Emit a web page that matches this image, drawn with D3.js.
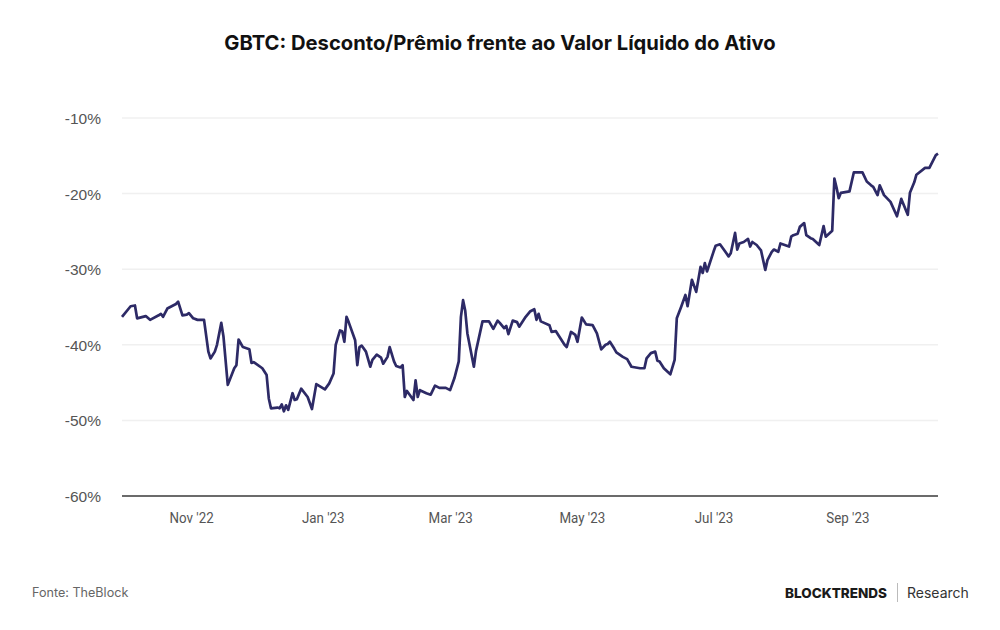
<!DOCTYPE html>
<html>
<head>
<meta charset="utf-8">
<script src="https://cdn.jsdelivr.net/npm/d3@7"></script>
<style>
  body { margin: 0; background: #fff; }
  svg { display: block; }
</style>
</head>
<body>
<svg id="chart" width="1000" height="630"></svg>
<script>
(() => {

    // data (GBTC discount/premium to NAV, %)
    const dates = [
        "2022-09-30","2022-10-04","2022-10-06","2022-10-07","2022-10-11","2022-10-13","2022-10-17","2022-10-18",
        "2022-10-19","2022-10-21","2022-10-23","2022-10-25","2022-10-26","2022-10-28","2022-10-30","2022-10-31",
        "2022-11-02","2022-11-04","2022-11-07","2022-11-09","2022-11-10","2022-11-12","2022-11-13","2022-11-15",
        "2022-11-16","2022-11-18","2022-11-21","2022-11-22","2022-11-23","2022-11-25","2022-11-28","2022-11-29",
        "2022-11-30","2022-12-01","2022-12-04","2022-12-06","2022-12-07","2022-12-08","2022-12-11","2022-12-12",
        "2022-12-13","2022-12-14","2022-12-15","2022-12-16","2022-12-18","2022-12-19","2022-12-20","2022-12-22",
        "2022-12-25","2022-12-27","2022-12-29","2023-01-02","2023-01-04","2023-01-06","2023-01-07","2023-01-09",
        "2023-01-10","2023-01-11","2023-01-12","2023-01-13","2023-01-16","2023-01-17","2023-01-18","2023-01-19",
        "2023-01-21","2023-01-23","2023-01-24","2023-01-26","2023-01-28","2023-01-29","2023-01-31","2023-02-01",
        "2023-02-03","2023-02-04","2023-02-06","2023-02-07","2023-02-08","2023-02-09","2023-02-12","2023-02-13",
        "2023-02-14","2023-02-15","2023-02-18","2023-02-20","2023-02-22","2023-02-24","2023-02-27","2023-03-01",
        "2023-03-03","2023-03-05","2023-03-06","2023-03-07","2023-03-08","2023-03-09","2023-03-12","2023-03-13",
        "2023-03-16","2023-03-19","2023-03-21","2023-03-23","2023-03-24","2023-03-26","2023-03-27","2023-03-28",
        "2023-03-30","2023-04-01","2023-04-02","2023-04-05","2023-04-07","2023-04-09","2023-04-10","2023-04-11",
        "2023-04-12","2023-04-16","2023-04-17","2023-04-19","2023-04-21","2023-04-23","2023-04-24","2023-04-26",
        "2023-04-28","2023-04-29","2023-05-01","2023-05-03","2023-05-06","2023-05-08","2023-05-10","2023-05-12",
        "2023-05-13","2023-05-14","2023-05-16","2023-05-17","2023-05-20","2023-05-22","2023-05-24","2023-05-28",
        "2023-05-30","2023-05-31","2023-06-02","2023-06-04","2023-06-05","2023-06-06","2023-06-08","2023-06-11",
        "2023-06-13","2023-06-14","2023-06-16","2023-06-18","2023-06-19","2023-06-21","2023-06-23","2023-06-25",
        "2023-06-26","2023-06-27","2023-06-28","2023-07-01","2023-07-02","2023-07-04","2023-07-06","2023-07-08",
        "2023-07-09","2023-07-11","2023-07-12","2023-07-13","2023-07-15","2023-07-17","2023-07-18","2023-07-19",
        "2023-07-21","2023-07-23","2023-07-25","2023-07-26","2023-07-28","2023-07-29","2023-07-31","2023-08-01",
        "2023-08-03","2023-08-05","2023-08-06","2023-08-07","2023-08-09","2023-08-10","2023-08-12","2023-08-13",
        "2023-08-15","2023-08-16","2023-08-19","2023-08-21","2023-08-22","2023-08-25","2023-08-26","2023-08-27",
        "2023-08-28","2023-08-29","2023-09-02","2023-09-04","2023-09-08","2023-09-10","2023-09-12","2023-09-13",
        "2023-09-15","2023-09-16","2023-09-18","2023-09-21","2023-09-24","2023-09-26","2023-09-29","2023-09-30",
        "2023-10-02","2023-10-03","2023-10-07","2023-10-09","2023-10-12","2023-10-13"
    ];
    const values = [
        -36.3,-34.9,-34.8,-36.5,-36.2,-36.7,-36.1,-35.9,
        -36.3,-35.2,-34.9,-34.6,-34.3,-36.1,-36.0,-35.8,
        -36.5,-36.7,-36.7,-40.9,-41.8,-40.9,-40.0,-37.1,
        -38.9,-45.3,-43.1,-42.7,-39.3,-40.3,-40.6,-42.4,
        -42.3,-42.5,-43.1,-44.0,-47.1,-48.4,-48.3,-48.4,
        -47.9,-48.8,-48.0,-48.6,-46.4,-47.3,-47.2,-45.8,
        -46.9,-48.5,-45.2,-45.9,-45.1,-43.8,-40.0,-38.1,
        -38.2,-39.6,-36.3,-37.0,-39.4,-42.7,-40.3,-40.1,
        -40.9,-42.9,-42.0,-41.3,-41.7,-42.5,-41.6,-40.3,
        -42.2,-42.8,-43.0,-42.7,-46.9,-46.1,-47.3,-44.7,
        -46.9,-46.0,-46.4,-46.6,-45.4,-45.7,-45.7,-46.0,
        -44.4,-42.2,-36.3,-34.1,-35.5,-38.5,-42.9,-40.8,
        -36.9,-36.9,-37.9,-36.8,-37.1,-37.8,-37.5,-38.6,
        -36.8,-37.0,-37.6,-36.3,-35.6,-35.3,-36.7,-35.9,
        -36.9,-37.4,-38.3,-38.2,-39.1,-40.0,-40.3,-38.3,
        -38.7,-39.6,-36.4,-37.3,-37.4,-38.5,-40.6,-40.0,
        -39.9,-39.6,-40.5,-41.0,-41.6,-41.9,-42.9,-43.1,
        -43.1,-41.8,-41.1,-40.9,-42.1,-42.2,-43.1,-43.9,
        -42.0,-36.5,-35.0,-33.4,-34.9,-31.4,-33.0,-29.7,
        -30.5,-29.2,-30.3,-27.7,-26.9,-26.7,-27.5,-28.3,
        -27.9,-25.2,-27.4,-26.6,-26.4,-26.0,-27.0,-26.4,
        -26.8,-27.5,-30.1,-28.8,-27.7,-27.4,-27.7,-26.6,
        -26.8,-27.0,-25.7,-25.5,-25.3,-24.4,-23.9,-25.5,
        -25.9,-26.0,-26.8,-24.3,-25.7,-24.9,-18.0,-19.2,
        -20.6,-19.9,-19.7,-17.2,-17.2,-18.4,-18.9,-19.1,
        -20.2,-18.9,-20.2,-21.1,-23.0,-20.7,-22.8,-19.9,
        -18.5,-17.5,-16.6,-16.6,-14.9,-14.7
    ];
    const y_ticks = [-10, -20, -30, -40, -50, -60];
    const x_ticks = ["2022-11-01", "2023-01-01", "2023-03-01", "2023-05-01", "2023-07-01", "2023-09-01"];
    const x_domain = ["2022-09-30", "2023-10-13"];

    const title = "GBTC: Desconto/Prêmio frente ao Valor Líquido do Ativo";
    const source = "Fonte: TheBlock";

    // chart area
    const left = 122, right = 938, top = 118, bottom = 496;
    const line_color = "#2d2a66";
    const parse = d3.timeParse("%Y-%m-%d");
    const month_names = ["Jan", "Feb", "Mar", "Apr", "May", "Jun", "Jul", "Aug", "Sep", "Oct", "Nov", "Dec"];

    const data = dates.map((d, i) => ({ date: parse(d), value: values[i] }));

    let svg = d3.select("#chart");

    let x_scale = d3.scaleTime()
        .domain(x_domain.map(parse))
        .range([left, right]);

    let y_scale = d3.scaleLinear()
        .domain([-60, -10])
        .range([bottom, top]);

    // gridlines
    svg.append("g")
        .selectAll("line")
        .data(y_ticks.filter((t) => t != -60))
        .enter()
        .append("line")
        .attr("x1", left)
        .attr("x2", right)
        .attr("y1", (d) => y_scale(d))
        .attr("y2", (d) => y_scale(d))
        .attr("stroke", "#f0f0f0")
        .attr("stroke-width", 1.5);

    // y axis labels
    let y_axis = d3.axisLeft(y_scale)
        .tickValues(y_ticks)
        .tickSize(0)
        .tickPadding(0)
        .tickFormat((d) => d + "%");
    svg.append("g")
        .attr("transform", `translate(101, 0)`)
        .call(y_axis)
        .call((g) => g.select(".domain").remove())
        .selectAll("text")
        .attr("dy", "0.36em")
        .style("font-family", "'Liberation Sans', Arial, sans-serif")
        .style("font-size", "15.5px")
        .style("fill", "#555");

    // baseline
    svg.append("line")
        .attr("x1", left)
        .attr("x2", right)
        .attr("y1", y_scale(-60))
        .attr("y2", y_scale(-60))
        .attr("stroke", "#6b6b6b")
        .attr("stroke-width", 2);

    // x axis labels
    let x_axis = d3.axisBottom(x_scale)
        .tickValues(x_ticks.map(parse))
        .tickSize(0)
        .tickPadding(0)
        .tickFormat((d) => month_names[d.getMonth()] + " '" + String(d.getFullYear()).slice(2));
    svg.append("g")
        .attr("transform", `translate(0, 513)`)
        .call(x_axis)
        .call((g) => g.select(".domain").remove())
        .selectAll("text")
        .style("font-family", "Roboto, sans-serif")
        .style("font-size", "14.5px")
        .style("fill", "#555")
        .attr("transform", "scale(0.92,1)");

    // line
    svg.append("path")
        .datum(data)
        .attr("fill", "none")
        .attr("stroke", line_color)
        .attr("stroke-width", 2.7)
        .attr("stroke-linejoin", "round")
        .attr("d", d3.line()
            .x((d) => x_scale(d.date))
            .y((d) => y_scale(d.value)));

    // title
    svg.append("text")
        .attr("x", 500)
        .attr("y", 50)
        .text(title)
        .style("font-family", "Inter, sans-serif")
        .style("font-size", "20.2px")
        .style("font-weight", "700")
        .style("fill", "#111")
        .style("text-anchor", "middle");

    // footer
    svg.append("text")
        .attr("x", 32)
        .attr("y", 597)
        .text(source)
        .style("font-family", "Inter, sans-serif")
        .style("font-size", "12.6px")
        .style("fill", "#666");

    svg.append("text")
        .attr("x", 887)
        .attr("y", 598)
        .text("BLOCKTRENDS")
        .style("font-family", "Inter, sans-serif")
        .style("font-size", "13.5px")
        .style("font-weight", "800")
        .style("fill", "#1a1a1a")
        .style("text-anchor", "end");

    svg.append("line")
        .attr("x1", 897.5)
        .attr("x2", 897.5)
        .attr("y1", 583)
        .attr("y2", 602)
        .attr("stroke", "#bbb")
        .attr("stroke-width", 1);

    svg.append("text")
        .attr("x", 907)
        .attr("y", 598)
        .text("Research")
        .style("font-family", "Inter, sans-serif")
        .style("font-size", "14px")
        .style("fill", "#333");

})();
</script>
</body>
</html>
